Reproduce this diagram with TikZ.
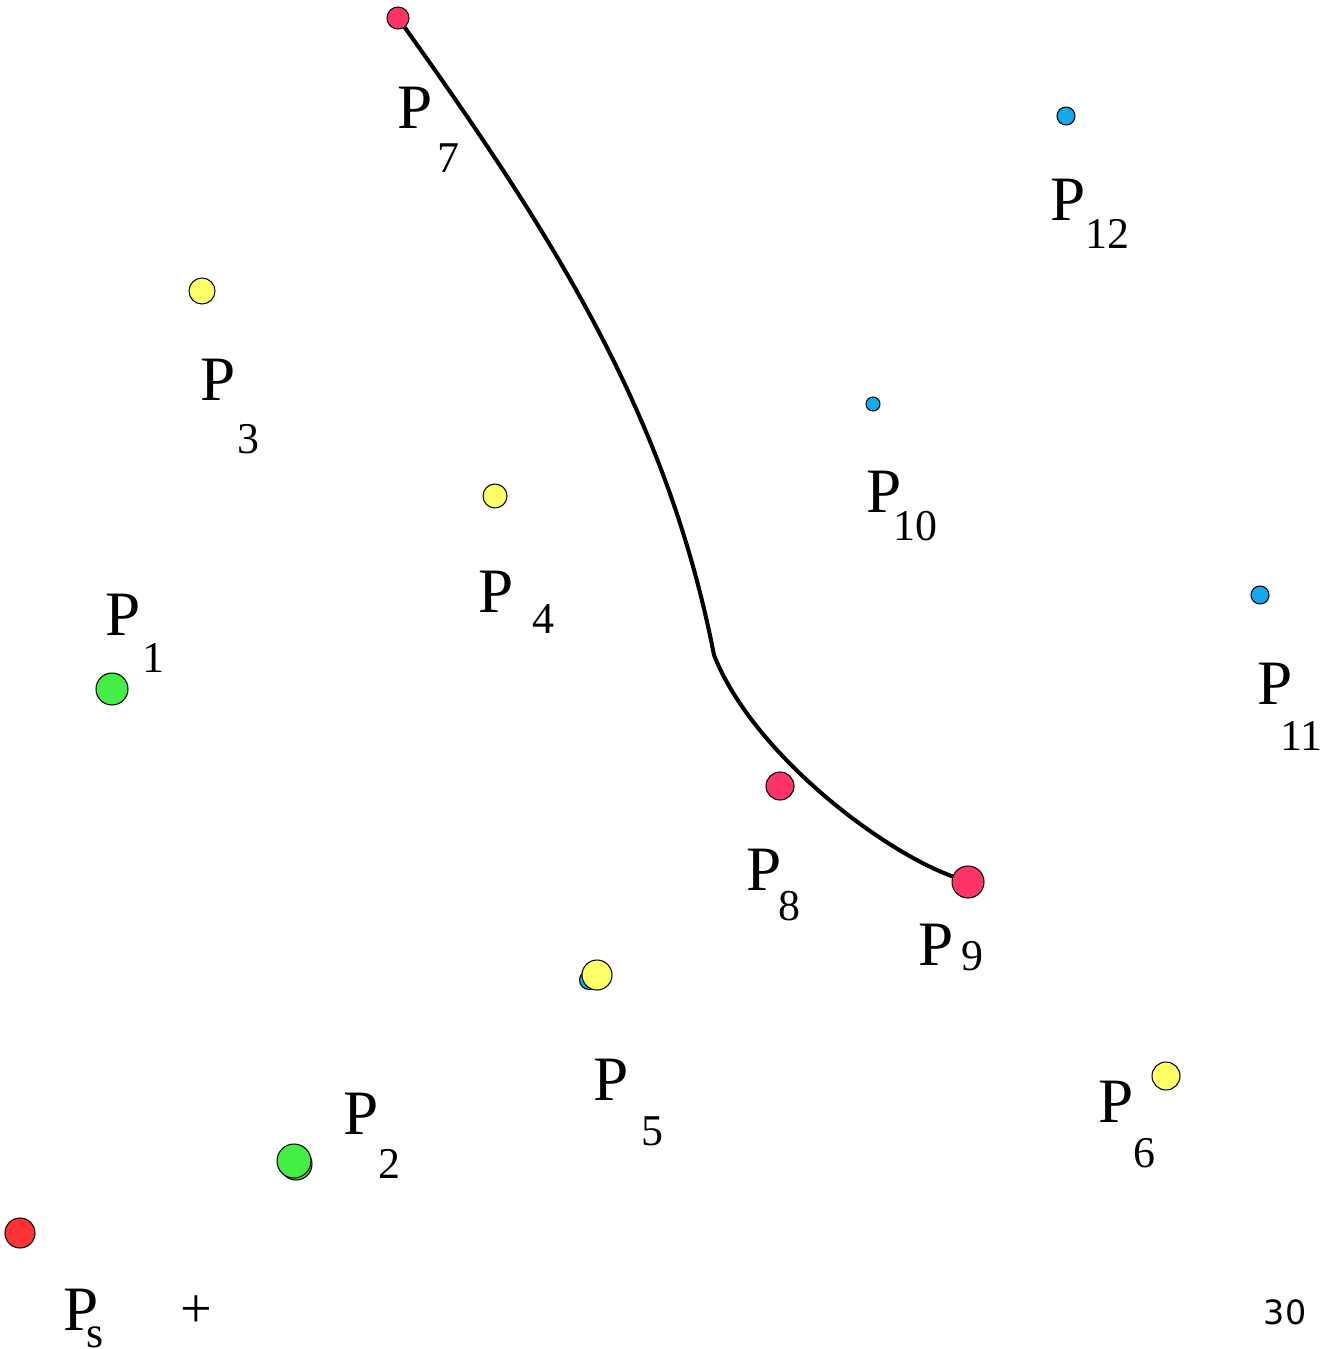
\documentclass[tikz,border=0pt]{standalone}
\usepackage{fontspec}
\setmainfont{Liberation Serif}
\newfontfamily\numfont{DejaVu Sans}
\usepackage{xcolor}
\usetikzlibrary{positioning}

\definecolor{pinkred}{HTML}{FF3366}
\definecolor{startred}{HTML}{FF3333}
\definecolor{dotyellow}{HTML}{FFFF66}
\definecolor{dotgreen}{HTML}{44EE44}
\definecolor{dotblue}{HTML}{11AAEE}

\begin{document}
\begin{tikzpicture}[
    x=0.02cm, y=-0.02cm,
    dot/.style={circle, draw=black, line width=0.6pt, inner sep=0pt},
    bigp/.style={anchor=base west, inner sep=0pt, font=\fontsize{36}{36}\selectfont},
    sub/.style={anchor=base west, inner sep=0pt, font=\fontsize{25}{25}\selectfont},
    curve/.style={line width=2.3pt, color=black},
]
\clip (0,0) rectangle (1330,1349);
\fill[white] (0,0) rectangle (1330,1349);

% points
\node[dot, fill=pinkred, minimum size=0.44cm] (p7) at (398,18) {};
\node[dot, fill=pinkred, minimum size=0.56cm] (p8) at (780,786) {};
\node[dot, fill=pinkred, minimum size=0.64cm] (p9) at (968,882) {};
\node[dot, fill=dotyellow, minimum size=0.52cm] (p3) at (202,291) {};
\node[dot, fill=dotyellow, minimum size=0.48cm] (p4) at (495,496) {};
\node[dot, fill=dotblue, minimum size=0.38cm] (p5b) at (589,980) {};
\node[dot, fill=dotyellow, minimum size=0.60cm] (p5) at (597,975) {};
\node[dot, fill=dotyellow, minimum size=0.56cm] (p6) at (1166,1076) {};
\node[dot, fill=dotgreen, minimum size=0.64cm] (p1) at (112,689) {};
\node[dot, fill=dotgreen, minimum size=0.64cm] (p2b) at (296,1164) {};
\node[dot, fill=dotgreen, minimum size=0.68cm] (p2) at (294,1161) {};
\node[dot, fill=startred, minimum size=0.60cm] (ps) at (20,1233) {};
\node[dot, fill=dotblue, minimum size=0.28cm] (p10) at (873,404) {};
\node[dot, fill=dotblue, minimum size=0.36cm] (p12) at (1066,116) {};
\node[dot, fill=dotblue, minimum size=0.36cm] (p11) at (1260,595) {};

% labels
\node[bigp] (l7) at (397,128) {P};   \node[sub] (s7) at (437,172) {7};
\node[bigp] (l12) at (1050,220) {P}; \node[sub] (s12) at (1085,248) {12};
\node[bigp] (l3) at (200,400) {P};   \node[sub] (s3) at (237,453) {3};
\node[bigp] (l10) at (866,512) {P};  \node[sub] (s10) at (893,540) {10};
\node[bigp] (l4) at (478,612) {P};   \node[sub] (s4) at (532,633) {4};
\node[bigp] (l1) at (105,635) {P};   \node[sub] (s1) at (142,672) {1};
\node[bigp] (l11) at (1257,704) {P}; \node[sub] (s11) at (1280,750) {11};
\node[bigp] (l8) at (746,890) {P};   \node[sub] (s8) at (778,920) {8};
\node[bigp] (l9) at (918,965) {P};   \node[sub] (s9) at (961,970) {9};
\node[bigp] (l5) at (593,1100) {P};  \node[sub] (s5) at (641,1145) {5};
\node[bigp] (l6) at (1098,1122) {P}; \node[sub] (s6) at (1133,1167) {6};
\node[bigp] (l2) at (343,1134) {P};  \node[sub] (s2) at (378,1178) {2};
\node[bigp] (ls) at (63,1330) {P};   \node[sub] (ss) at (86,1347) {s};

\node[inner sep=0pt, font=\fontsize{32}{32}\selectfont] (plus) at (196,1312) {+};
\node[inner sep=0pt, font=\numfont\fontsize{19}{19}\selectfont] (num) at (1285,1312) {30};

% path
\coordinate (kink) at (714,655);
\draw[curve] (p7) .. controls (560,245) and (668,420) .. (kink)
    .. controls (752,752) and (880,850) .. (p9);

\end{tikzpicture}
\end{document}
